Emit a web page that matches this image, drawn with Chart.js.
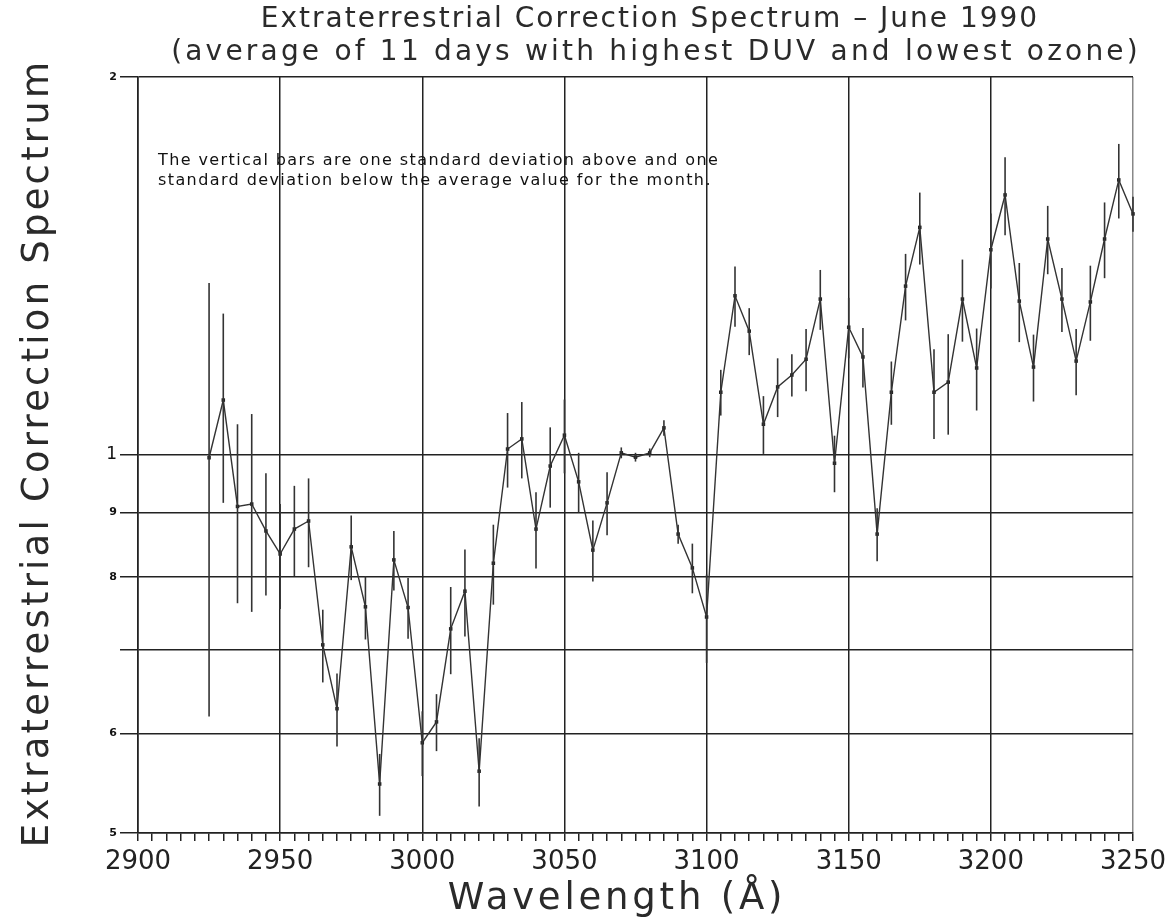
<!DOCTYPE html>
<html lang="en">

<head>
    <meta charset="UTF-8">
    <title>Extraterrestrial Correction Spectrum - June 1990</title>
    <script src="https://cdn.jsdelivr.net/npm/chart.js"></script>
    <style>
        body { margin: 0; background: #fff; }
        #grafico { display: block; }
    </style>
</head>

<body>
    <canvas id="grafico" width="1166" height="924"></canvas>
</body>

</html>

<script>

    // wavelength (Angstrom), one point every 5 A
    const wavelengths = [
        2925, 2930, 2935, 2940, 2945, 2950, 2955, 2960, 2965, 2970,
        2975, 2980, 2985, 2990, 2995, 3000, 3005, 3010, 3015, 3020,
        3025, 3030, 3035, 3040, 3045, 3050, 3055, 3060, 3065, 3070,
        3075, 3080, 3085, 3090, 3095, 3100, 3105, 3110, 3115, 3120,
        3125, 3130, 3135, 3140, 3145, 3150, 3155, 3160, 3165, 3170,
        3175, 3180, 3185, 3190, 3195, 3200, 3205, 3210, 3215, 3220,
        3225, 3230, 3235, 3240, 3245, 3250
    ];

    // average correction for the month
    const correction = [
        0.995, 1.106, 0.910, 0.914, 0.870, 0.834, 0.873, 0.886, 0.706, 0.628,
        0.845, 0.757, 0.547, 0.825, 0.756, 0.590, 0.613, 0.727, 0.779, 0.560,
        0.820, 1.011, 1.030, 0.873, 0.980, 1.037, 0.952, 0.840, 0.916, 1.004,
        0.996, 1.004, 1.051, 0.865, 0.813, 0.743, 1.122, 1.339, 1.255, 1.058,
        1.133, 1.158, 1.192, 1.331, 0.985, 1.264, 1.197, 0.865, 1.122, 1.363,
        1.518, 1.122, 1.143, 1.331, 1.173, 1.457, 1.611, 1.326, 1.175, 1.486,
        1.331, 1.188, 1.324, 1.486, 1.656, 1.556
    ];

    // one standard deviation
    const stdDev = [
        0.376, 0.190, 0.148, 0.164, 0.097, 0.080, 0.072, 0.072, 0.047, 0.042,
        0.050, 0.044, 0.031, 0.045, 0.042, 0.035, 0.032, 0.058, 0.062, 0.035,
        0.060, 0.069, 0.072, 0.061, 0.072, 0.070, 0.052, 0.047, 0.053, 0.010,
        0.008, 0.008, 0.015, 0.015, 0.037, 0.060, 0.047, 0.074, 0.054, 0.056,
        0.061, 0.045, 0.068, 0.073, 0.051, 0.070, 0.065, 0.042, 0.065, 0.083,
        0.100, 0.092, 0.105, 0.100, 0.088, 0.100, 0.115, 0.096, 0.072, 0.093,
        0.078, 0.072, 0.091, 0.103, 0.113, 0.050
    ];

    const yTickValues = [0.5, 0.6, 0.7, 0.8, 0.9, 1, 2];
    const yTickLabels = ['5', '6', '', '8', '9', '1', '2'];

    const tituloLinhas = [
        'Extraterrestrial Correction Spectrum \u2013 June 1990',
        '(average of 11 days with highest DUV and lowest ozone)'
    ];
    const tituloY = 'Extraterrestrial Correction Spectrum';
    const tituloX = 'Wavelength (\u00c5)';
    const notaLinhas = [
        'The vertical bars are one standard deviation above and one',
        'standard deviation below the average value for the month.'
    ];

    const tinta = '#222';
    const fonte = "'DejaVu Sans', sans-serif";

    // barras verticais de desvio padrao
    const barrasErro = {
        id: 'barrasErro',
        afterDatasetsDraw(chart) {
            const ctx = chart.ctx;
            const xs = chart.scales.x;
            const ys = chart.scales.y;
            const area = chart.chartArea;
            ctx.save();
            ctx.beginPath();
            ctx.rect(area.left, area.top, area.right - area.left + 12, area.bottom - area.top);
            ctx.clip();
            ctx.strokeStyle = '#333';
            ctx.lineWidth = 1.6;
            wavelengths.forEach((w, i) => {
                const x = xs.getPixelForValue(w);
                const y1 = ys.getPixelForValue(correction[i] + stdDev[i]);
                const y2 = ys.getPixelForValue(correction[i] - stdDev[i]);
                ctx.beginPath();
                ctx.moveTo(x, y1);
                ctx.lineTo(x, y2);
                ctx.stroke();
            });
            ctx.restore();
        }
    };

    // titulos e nota (texto com espacamento largo como no original)
    const textos = {
        id: 'textos',
        afterDraw(chart) {
            const ctx = chart.ctx;
            ctx.save();
            ctx.fillStyle = '#2a2a2a';
            ctx.textAlign = 'center';
            ctx.textBaseline = 'middle';

            ctx.font = '28px ' + fonte;
            ctx.letterSpacing = '2px';
            ctx.fillText(tituloLinhas[0], 650, 20);
            ctx.letterSpacing = '3.2px';
            ctx.fillText(tituloLinhas[1], 656, 53);

            ctx.font = '37px ' + fonte;
            ctx.letterSpacing = '3.8px';
            ctx.fillText(tituloX, 617, 899);

            ctx.save();
            ctx.translate(38, 453);
            ctx.rotate(-Math.PI / 2);
            ctx.letterSpacing = '3.2px';
            ctx.fillText(tituloY, 0, 0);
            ctx.restore();

            ctx.fillStyle = '#111';
            ctx.textAlign = 'left';
            ctx.font = '16px ' + fonte;
            ctx.letterSpacing = '1.4px';
            ctx.fillText(notaLinhas[0], 158, 161);
            ctx.fillText(notaLinhas[1], 158, 181);
            ctx.restore();
        }
    };

    const ctx = document.getElementById('grafico').getContext('2d');

    new Chart(ctx, {
        type: 'line',
        data: {
            datasets: [{
                data: wavelengths.map((w, i) => ({ x: w, y: correction[i] })),
                borderColor: '#333',
                borderWidth: 1.4,
                tension: 0,
                pointStyle: 'rect',
                pointRadius: 2.5,
                pointBackgroundColor: '#222',
                pointBorderColor: '#222',
                pointBorderWidth: 0,
                clip: 12
            }]
        },
        options: {
            responsive: false,
            animation: false,
            devicePixelRatio: 1,
            layout: {
                padding: { left: 0, right: 33, top: 77, bottom: 0 }
            },
            plugins: {
                legend: { display: false },
                tooltip: { enabled: false },
                title: { display: false }
            },
            scales: {
                x: {
                    type: 'linear',
                    min: 2900,
                    max: 3250,
                    afterFit(axis) {
                        axis.height = 91;
                        axis.paddingRight = 0;
                    },
                    ticks: {
                        stepSize: 5,
                        autoSkip: false,
                        maxRotation: 0,
                        padding: 6,
                        color: tinta,
                        font: { family: fonte, size: 26 },
                        callback: (v) => (v % 50 === 0 ? String(v) : '')
                    },
                    grid: {
                        color: (c) => {
                            if (!c.tick) return 'rgba(0,0,0,0)';
                            if (c.tick.value === 3250) return '#888';
                            return c.tick.value % 50 === 0 ? tinta : 'rgba(0,0,0,0)';
                        },
                        tickColor: tinta,
                        tickLength: 8,
                        lineWidth: 1.5
                    },
                    border: { display: true, color: tinta, width: 1.6 }
                },
                y: {
                    type: 'logarithmic',
                    min: 0.5,
                    max: 2,
                    afterFit(axis) { axis.width = 138; },
                    afterBuildTicks(axis) {
                        axis.ticks = yTickValues.map(v => ({ value: v }));
                    },
                    ticks: {
                        autoSkip: false,
                        padding: 3,
                        color: '#111',
                        font: (c) => (c.tick && c.tick.value === 1)
                            ? { family: fonte, size: 17, weight: 'normal' }
                            : { family: fonte, size: 11, weight: 'bold' },
                        callback: (v) => {
                            const i = yTickValues.indexOf(v);
                            return i >= 0 ? yTickLabels[i] : '';
                        }
                    },
                    grid: {
                        color: tinta,
                        tickColor: tinta,
                        tickLength: 18,
                        lineWidth: 1.5
                    },
                    border: { display: true, color: tinta, width: 1.6 }
                }
            }
        },
        plugins: [barrasErro, textos]
    });

</script>
